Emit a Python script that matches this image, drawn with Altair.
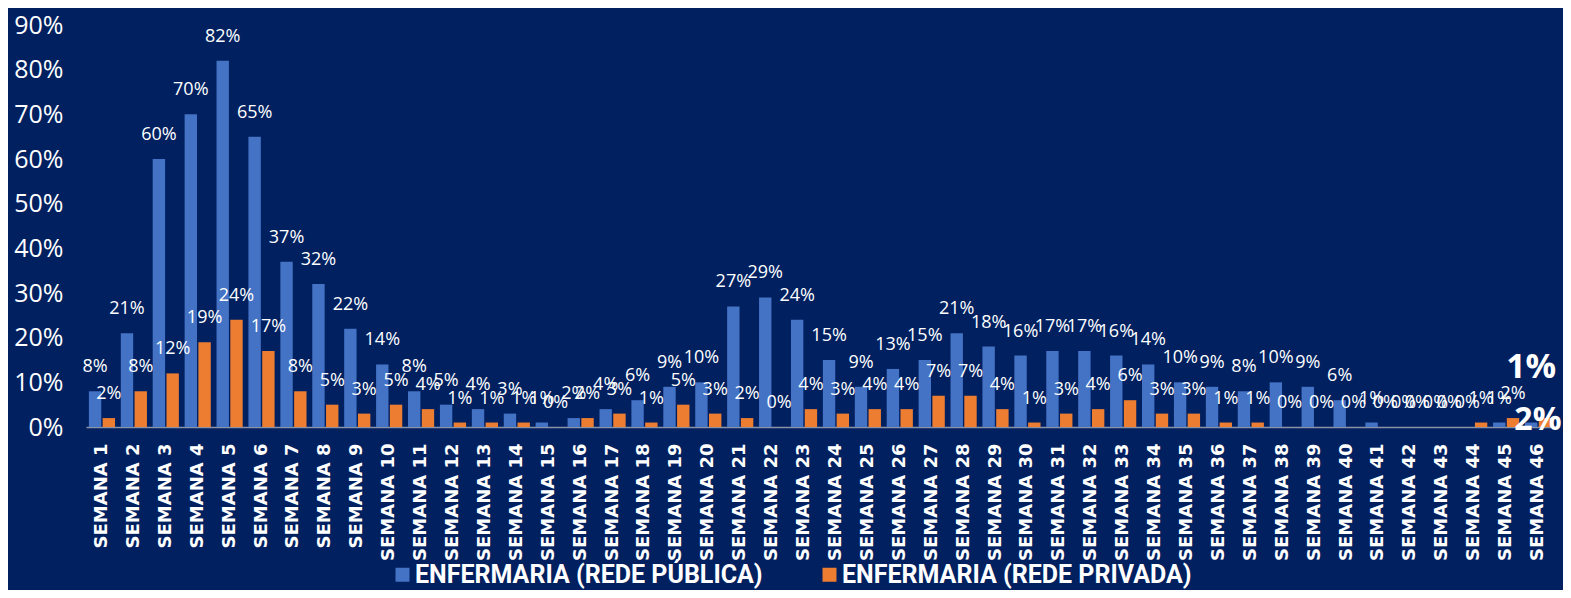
import altair as alt
import pandas as pd

weeks = [f"SEMANA {i}" for i in range(1, 47)]
series = ["ENFERMARIA (REDE PÚBLICA)", "ENFERMARIA (REDE PRIVADA)"]
publica = [8, 21, 60, 70, 82, 65, 37, 32, 22, 14,
           8, 5, 4, 3, 1, 2, 4, 6, 9, 10,
           27, 29, 24, 15, 9, 13, 15, 21, 18, 16,
           17, 17, 16, 14, 10, 9, 8, 10, 9, 6,
           1, 0, 0, 0, 1, 1]
privada = [2, 8, 12, 19, 24, 17, 8, 5, 3, 5,
           4, 1, 1, 1, 0, 2, 3, 1, 5, 3,
           2, 0, 4, 3, 4, 4, 7, 7, 4, 1,
           3, 4, 6, 3, 3, 1, 1, 0, 0, 0,
           0, 0, 0, 1, 2, 2]
colors = ["#4472C4", "#ED7D31"]
y_ticks = [0, 10, 20, 30, 40, 50, 60, 70, 80, 90]
title_text = "APURAÇÃO DE 01/01/2022 A 19/11/2022"

rows = []
for w, a, b in zip(weeks, publica, privada):
    rows.append({"semana": w, "serie": series[0], "valor": a})
    rows.append({"semana": w, "serie": series[1], "valor": b})
df = pd.DataFrame(rows)

base = alt.Chart(df).transform_calculate(
    lbl="datum.valor + '%'"
).encode(
    x=alt.X("semana:N", sort=weeks, title=None,
            scale=alt.Scale(paddingInner=0.18, paddingOuter=0.09),
            axis=alt.Axis(labelAngle=-90, labelFont="DejaVu Sans", labelFontWeight="bold",
                          labelFontSize=18, labelColor="white", labelPadding=16,
                          ticks=False, domainColor="#8A93A6", domainWidth=1.5,
                          grid=False)),
    xOffset=alt.XOffset("serie:N", sort=series, scale=alt.Scale(paddingInner=0.1)),
    y=alt.Y("valor:Q", title=None,
            scale=alt.Scale(domain=[0, 90], nice=False),
            axis=alt.Axis(values=y_ticks, labelExpr="datum.value + '%'",
                          labelFont="Open Sans", labelFontSize=25, labelColor="white",
                          labelPadding=23, ticks=False, domain=False, grid=False)),
)

bars = base.mark_bar().encode(
    color=alt.Color("serie:N", sort=series,
                    scale=alt.Scale(domain=series, range=colors),
                    legend=alt.Legend(title=None, orient="none", legendX=304, legendY=537,
                                      direction="horizontal", symbolType="square",
                                      symbolSize=196, symbolStrokeWidth=0,
                                      labelFont="Roboto", labelFontWeight="bold",
                                      labelFontSize=25, labelColor="white",
                                      labelOffset=0, columnPadding=54, labelLimit=500))
)

labels = base.transform_filter(alt.datum.semana != "SEMANA 46").mark_text(
    dy=-24, baseline="middle", align="center", font="Open Sans", fontSize=18, color="white"
).encode(text="lbl:N")

big_pub = base.transform_filter(
    (alt.datum.semana == "SEMANA 46") & (alt.datum.serie == series[0])
).mark_text(dy=-55, baseline="middle", align="center", font="Open Sans",
            fontWeight="bold", fontSize=34, color="white").encode(text="lbl:N")

big_priv = base.transform_filter(
    (alt.datum.semana == "SEMANA 46") & (alt.datum.serie == series[1])
).mark_text(dy=2, dx=-7, baseline="middle", align="center", font="Open Sans",
            fontWeight="bold", fontSize=32, color="white").encode(text="lbl:N")

chart = alt.layer(bars, labels, big_pub, big_priv).properties(
    width=1468, height=402,
    title=alt.TitleParams(title_text, color="white", font="Open Sans", fontWeight="bold",
                          fontSize=34, anchor="middle", dx=-33, offset=21),
    autosize=alt.AutoSizeParams(type="none"),
    padding={"left": 78, "top": 17, "right": 9, "bottom": 163},
).configure(background="#002060").configure_view(strokeWidth=0)

chart.save("out.html", embed_options={"renderer": "svg", "actions": False})
